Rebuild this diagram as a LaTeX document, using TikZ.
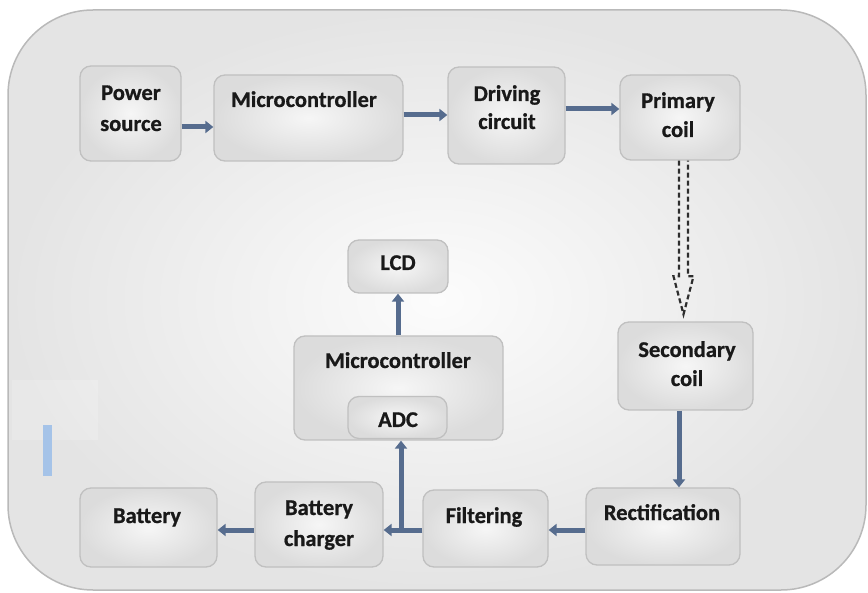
\documentclass[tikz,border=0pt]{standalone}
\usepackage{fontspec}
\setmainfont{Carlito}[BoldFeatures={FakeBold=0.8}]
\usetikzlibrary{arrows.meta,calc}
\definecolor{frameline}{RGB}{185,185,185}
\definecolor{framein}{RGB}{252,252,252}
\definecolor{frameout}{RGB}{228,228,228}
\definecolor{boxline}{RGB}{192,192,192}
\definecolor{boxin}{RGB}{246,246,246}
\definecolor{boxout}{RGB}{220,220,220}
\definecolor{arrc}{RGB}{86,108,142}
\definecolor{dashc}{RGB}{45,45,45}
\definecolor{ink}{RGB}{25,25,25}
\definecolor{barblue}{RGB}{165,195,232}
\begin{document}
\begin{tikzpicture}[x=1pt,y=-1pt,
  blk/.style={draw=boxline, line width=1.3pt, rounded corners=11pt,
              inner color=boxin, outer color=boxout, inner sep=0pt},
  lbl/.style={font=\fontsize{22.5}{27}\selectfont\bfseries, text=ink,
              inner sep=0pt, anchor=base},
  arr/.style={draw=arrc, line width=5pt,
              -{Triangle[length=8pt,width=12pt]}},
  hollowdash/.style={draw=dashc, line width=2.2pt, dash pattern=on 5pt off 3pt,
                     line join=miter}]
\useasboundingbox (0,0) rectangle (868,593);

% outer panel
\path[draw=frameline, line width=1.5pt, rounded corners=85pt,
      inner color=framein, outer color=frameout]
  (8,10) rectangle (866,590);

% faint toolbar remnant on the left
\fill[white, opacity=0.18] (12,380) rectangle (98,440);
\fill[barblue] (43,425) rectangle (52,476);

% blocks
\node[blk, minimum width=101pt, minimum height=95pt] (ps)  at (130.5,113.5) {};
\node[blk, minimum width=189pt, minimum height=86pt] (mc1) at (308.5,118) {};
\node[blk, minimum width=117pt, minimum height=97pt] (drv) at (506.5,115.5) {};
\node[blk, minimum width=120pt, minimum height=85pt] (pri) at (680,117.5) {};
\node[blk, minimum width=135pt, minimum height=88pt] (sec) at (685.5,366) {};
\node[blk, minimum width=154pt, minimum height=77pt] (rec) at (663,526.5) {};
\node[blk, minimum width=125pt, minimum height=77pt] (fil) at (485.5,528.5) {};
\node[blk, minimum width=128pt, minimum height=85pt] (chg) at (319,524.5) {};
\node[blk, minimum width=137pt, minimum height=79pt] (bat) at (148.5,527.5) {};
\node[blk, minimum width=100pt, minimum height=53pt] (lcd) at (398,266.5) {};
\node[blk, minimum width=209pt, minimum height=104pt] (mc2) at (398.5,388) {};
\node[blk, minimum width=99pt, minimum height=42pt] (adc) at (397.5,417.5) {};

% labels
\node[lbl] (tps1) at (131,100) {Power};
\node[lbl] (tps2) at (131,131) {source};
\node[lbl] (tmc1) at (304,107) {Microcontroller};
\node[lbl] (tdr1) at (507,101) {Driving};
\node[lbl] (tdr2) at (507,129) {circuit};
\node[lbl] (tpr1) at (678,108) {Primary};
\node[lbl] (tpr2) at (678,137) {coil};
\node[lbl] (tlcd) at (398,270) {LCD};
\node[lbl] (tmc2) at (398,368) {Microcontroller};
\node[lbl] (tadc) at (398,427) {ADC};
\node[lbl] (tse1) at (687,357) {Secondary};
\node[lbl] (tse2) at (687,386) {coil};
\node[lbl] (trec) at (662,520) {Rectification};
\node[lbl] (tfil) at (484,523) {Filtering};
\node[lbl] (tch1) at (319,515) {Battery};
\node[lbl] (tch2) at (319,546) {charger};
\node[lbl] (tbat) at (147,523) {Battery};

% connector rows and columns
\coordinate (r1) at (0,127);
\coordinate (r2) at (0,115);
\coordinate (r3) at (0,109);
\coordinate (rb) at (0,530);
\coordinate (cs) at (679,0);
\coordinate (cl) at (398,0);
\coordinate (cd) at (683.5,0);
\coordinate (j)  at (401,530);

% upper chain
\draw[arr] (ps.east |- r1) -- (mc1.west |- r1);
\draw[arr] (mc1.east |- r2) -- (drv.west |- r2);
\draw[arr] (drv.east |- r3) -- (pri.west |- r3);

% wireless link: hollow dashed arrow
\coordinate (dtop) at (cd |- pri.south);
\coordinate (dtip) at ($(cd |- sec.north)+(0,-7)$);
\draw[hollowdash]
  ($(dtop)+(-4.5,0)$) -- ($(dtip)+(-4.5,-38)$) -- ($(dtip)+(-10,-38)$)
  -- (dtip) -- ($(dtip)+(10,-38)$) -- ($(dtip)+(4.5,-38)$)
  -- ($(dtop)+(4.5,0)$);

% receiving chain
\draw[arr] (sec.south -| cs) -- (rec.north -| cs);
\draw[arr] (rec.west |- rb) -- (fil.east |- rb);
\draw[arr] (fil.west |- rb) -- (chg.east |- rb);
\draw[arr] (chg.west |- rb) -- (bat.east |- rb);
\draw[arr] (j) -- (j |- mc2.south);
\draw[arr] (mc2.north -| cl) -- (lcd.south -| cl);
\end{tikzpicture}
\end{document}
